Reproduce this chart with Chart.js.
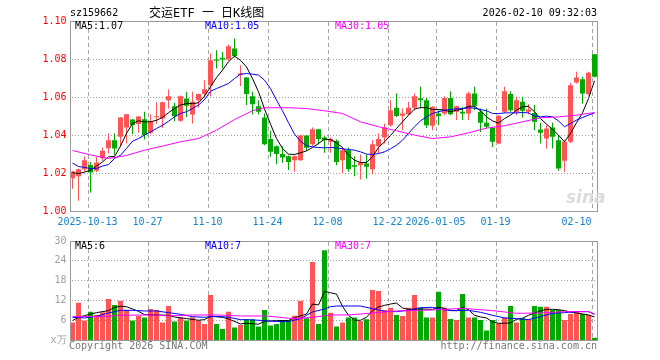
<!DOCTYPE html>
<html>
<head>
<meta charset="utf-8">
<script src="https://cdn.jsdelivr.net/npm/chart.js@4.4.1/dist/chart.umd.min.js"></script>
<style>
  body { margin: 0; background: #fff; }
  #box { position: relative; width: 660px; height: 360px; overflow: hidden;
         font-family: "DejaVu Sans Mono", "Liberation Mono", monospace; font-size: 10px; line-height: 10px; }
  #box canvas { position: absolute; left: 0; }
  .t { position: absolute; white-space: pre; }
</style>
</head>
<body>
<div id="box">
  <canvas id="kline" width="660" height="232" style="top:0"></canvas>
  <canvas id="vol" width="660" height="128" style="top:232px"></canvas>

  <div class="t" style="left:70px;top:8px">sz159662</div>
  <div class="t" style="left:149px;top:7px;font-size:12px;line-height:12px;font-family:'DejaVu Sans Mono','Noto Sans CJK SC'">交运ETF 一 日K线图</div>
  <div class="t" style="right:63px;top:8px">2026-02-10 09:32:03</div>

  <div class="t" style="left:75px;top:21px;color:#000">MA5:1.07</div>
  <div class="t" style="left:205px;top:21px;color:#0000ff">MA10:1.05</div>
  <div class="t" style="left:335px;top:21px;color:#ff00ff">MA30:1.05</div>

  <div class="t" style="left:566px;top:187px;color:#dcdcdc;font:italic bold 17px 'DejaVu Sans'">sina</div>

  <div class="t" style="left:75px;top:241px;color:#000">MA5:6</div>
  <div class="t" style="left:205px;top:241px;color:#0000ff">MA10:7</div>
  <div class="t" style="left:335px;top:241px;color:#ff00ff">MA30:7</div>

  <div class="t" style="left:69px;top:341px;color:#777">Copyright 2026 SINA.COM</div>
  <div class="t" style="right:63px;top:341px;color:#777">http://finance.sina.com.cn</div>
</div>

<script>
const dates = [
  "2025-09-30","2025-10-09","2025-10-10","2025-10-13","2025-10-14","2025-10-15","2025-10-16","2025-10-17",
  "2025-10-20","2025-10-21","2025-10-22","2025-10-23","2025-10-24","2025-10-27","2025-10-28","2025-10-29",
  "2025-10-30","2025-10-31","2025-11-03","2025-11-04","2025-11-05","2025-11-06","2025-11-07","2025-11-10",
  "2025-11-11","2025-11-12","2025-11-13","2025-11-14","2025-11-17","2025-11-18","2025-11-19","2025-11-20",
  "2025-11-21","2025-11-24","2025-11-25","2025-11-26","2025-11-27","2025-11-28","2025-12-01","2025-12-02",
  "2025-12-03","2025-12-04","2025-12-05","2025-12-08","2025-12-09","2025-12-10","2025-12-11","2025-12-12",
  "2025-12-15","2025-12-16","2025-12-17","2025-12-18","2025-12-19","2025-12-22","2025-12-23","2025-12-24",
  "2025-12-25","2025-12-26","2025-12-29","2025-12-30","2025-12-31","2026-01-05","2026-01-06","2026-01-07",
  "2026-01-08","2026-01-09","2026-01-12","2026-01-13","2026-01-14","2026-01-15","2026-01-16","2026-01-19",
  "2026-01-20","2026-01-21","2026-01-22","2026-01-23","2026-01-26","2026-01-27","2026-01-28","2026-01-29",
  "2026-01-30","2026-02-02","2026-02-03","2026-02-04","2026-02-05","2026-02-06","2026-02-09","2026-02-10"
];

// axis labels shown under the price panel (last one padded so it ends at its grid line)
const tickText = {
  "2025-10-13": "2025-10-13", "2025-10-27": "10-27", "2025-11-10": "11-10", "2025-11-24": "11-24",
  "2025-12-08": "12-08", "2025-12-22": "12-22", "2026-01-05": "2026-01-05", "2026-01-19": "01-19",
  "2026-02-10": "02-10     "
};

const open = [
  1.0175,1.0185,1.0222,1.0245,1.0215,1.028,1.0333,1.0375,1.0393,1.0442,1.0484,1.046,1.0486,1.0414,1.0496,1.049,
  1.0586,1.0554,1.0477,1.0595,1.0511,1.0586,1.0618,1.0665,1.080,1.0809,1.080,1.0858,1.0718,1.0705,1.0607,1.0554,
  1.0495,1.0381,1.0344,1.0302,1.0291,1.027,1.027,1.040,1.0354,1.0433,1.0389,1.0367,1.0372,1.027,1.0323,1.0244,
  1.0244,1.0253,1.0223,1.0344,1.0389,1.0454,1.0546,1.0504,1.0512,1.0546,1.0596,1.0586,1.0451,1.0516,1.0516,1.0598,
  1.0525,1.0525,1.0516,1.0621,1.0525,1.0467,1.044,1.0358,1.0525,1.0618,1.0525,1.0577,1.0525,1.0519,1.0432,1.0384,
  1.0442,1.0375,1.0267,1.0367,1.0679,1.0696,1.0618,1.0828
];
const high = [
  1.0215,1.0225,1.029,1.026,1.0288,1.0337,1.041,1.041,1.0497,1.0513,1.0486,1.0502,1.0525,1.0512,1.0575,1.0577,
  1.0642,1.0572,1.061,1.063,1.063,1.062,1.0691,1.0832,1.0849,1.084,1.0877,1.0911,1.077,1.0708,1.063,1.0586,
  1.0516,1.0425,1.0347,1.0344,1.0295,1.0295,1.0404,1.0402,1.0442,1.0435,1.0396,1.039,1.0379,1.0337,1.0337,1.0291,
  1.030,1.030,1.0375,1.0411,1.0463,1.0586,1.0621,1.0542,1.0577,1.0621,1.0656,1.0598,1.0554,1.0533,1.0607,1.0633,
  1.0556,1.0551,1.063,1.0656,1.0542,1.0542,1.0446,1.0507,1.0656,1.0633,1.0604,1.0604,1.0565,1.056,1.0467,1.0454,
  1.0467,1.0402,1.0375,1.0677,1.0735,1.0709,1.0735,1.0828
];
const low = [
  1.012,1.0057,1.021,1.010,1.0208,1.0267,1.0305,1.0297,1.0344,1.0358,1.0407,1.0414,1.0379,1.0407,1.046,1.044,
  1.0542,1.0475,1.0472,1.0498,1.0463,1.0547,1.0604,1.0607,1.0753,1.0753,1.0793,1.081,1.0661,1.056,1.0511,1.0511,
  1.0349,1.0288,1.0249,1.0256,1.0218,1.0209,1.0267,1.0319,1.0344,1.0353,1.0309,1.0309,1.0244,1.020,1.0209,1.0186,
  1.0168,1.0174,1.0196,1.0305,1.0358,1.0446,1.0498,1.0428,1.0507,1.0533,1.0542,1.044,1.0428,1.0454,1.0507,1.0507,
  1.0481,1.0481,1.0481,1.0533,1.0419,1.0437,1.034,1.0354,1.0519,1.0525,1.0507,1.0495,1.0512,1.0428,1.0358,1.0332,
  1.0332,1.0214,1.0209,1.0361,1.0674,1.0568,1.0612,1.0705
];
const close = [
  1.021,1.0222,1.027,1.0205,1.0258,1.032,1.0375,1.0332,1.0495,1.0512,1.0455,1.05,1.0402,1.0474,1.050,1.0575,
  1.0607,1.0501,1.0607,1.0556,1.0578,1.0618,1.0644,1.0796,1.0793,1.080,1.087,1.0818,1.0726,1.0618,1.0565,1.0525,
  1.0354,1.0314,1.0302,1.0284,1.0261,1.0291,1.040,1.0335,1.0433,1.0381,1.0375,1.0381,1.0261,1.0323,1.0223,1.0235,
  1.0258,1.0235,1.0354,1.0381,1.0442,1.0533,1.0502,1.0516,1.0546,1.0607,1.0586,1.0454,1.0551,1.0502,1.0598,1.0512,
  1.0554,1.0516,1.0621,1.0556,1.0467,1.0446,1.0367,1.0504,1.0633,1.0533,1.0586,1.053,1.0537,1.0472,1.0414,1.0437,
  1.0393,1.0226,1.0367,1.0665,1.0705,1.0621,1.073,1.0709
];

const ma5 = [
  1.0204,1.020,1.0207,1.0218,1.0239,1.0261,1.0288,1.0289,1.0344,1.0411,1.0463,1.0477,1.0472,1.0472,1.048,1.0495,
  1.052,1.0542,1.056,1.0568,1.0568,1.0572,1.0607,1.0656,1.0705,1.0744,1.0788,1.0818,1.0796,1.0761,1.070,1.063,
  1.054,1.046,1.0384,1.0332,1.0302,1.030,1.0309,1.0319,1.0337,1.0358,1.0381,1.0379,1.0361,1.0337,1.0296,1.027,
  1.0258,1.0258,1.0288,1.0337,1.0367,1.040,1.0437,1.0472,1.0507,1.0539,1.0547,1.0546,1.0537,1.0537,1.0533,1.0525,
  1.0533,1.0539,1.0554,1.0554,1.053,1.0498,1.0477,1.0465,1.0489,1.0507,1.0533,1.0551,1.0554,1.0525,1.0489,1.046,
  1.0432,1.0402,1.0367,1.0411,1.0467,1.0519,1.0595,1.0688
];
const ma10 = [
  1.0255,1.0237,1.0232,1.0226,1.0226,1.0239,1.0247,1.0279,1.0296,1.0332,1.037,1.0384,1.0402,1.0419,1.0437,1.0454,
  1.0475,1.0498,1.0516,1.0525,1.0542,1.056,1.0589,1.0633,1.0647,1.066,1.0674,1.070,1.0723,1.0726,1.0723,1.0718,
  1.0691,1.0647,1.0586,1.053,1.0467,1.0407,1.037,1.0347,1.034,1.0337,1.0335,1.0337,1.0335,1.033,1.0326,1.0323,
  1.0314,1.0302,1.030,1.0305,1.0314,1.033,1.0349,1.0375,1.0411,1.0446,1.0477,1.0498,1.0516,1.0525,1.0533,1.0537,
  1.054,1.0542,1.0546,1.0544,1.0537,1.053,1.0516,1.0515,1.0519,1.0519,1.0519,1.0521,1.0519,1.0502,1.0498,1.0502,
  1.0498,1.0477,1.0446,1.0463,1.0481,1.0495,1.0507,1.0519
];
// [day index, value]
const ma30 = [
  [0,1.0321],[3,1.0298],[6,1.0279],[9,1.0295],[12,1.0323],[15,1.0344],[18,1.0367],[21,1.0384],[24,1.0428],
  [27,1.0484],[30,1.053],[32,1.0546],[36,1.0546],[39,1.0542],[42,1.053],[45,1.0516],[48,1.0472],[51,1.0446],
  [54,1.0425],[57,1.0402],[60,1.0384],[63,1.0393],[66,1.0414],[69,1.0439],[72,1.0451],[75,1.0472],[78,1.0493],
  [81,1.0498],[84,1.0507],[87,1.0521]
];

const volume = [
  5.4,11.4,6.0,8.7,7.7,8.5,12.5,10.7,12.0,9.2,6.0,7.4,6.9,9.5,9.2,5.4,10.4,5.7,6.9,6.0,7.0,6.0,5.0,13.7,
  5.0,3.5,8.7,3.9,4.7,6.4,6.4,4.2,9.2,4.5,5.0,6.2,6.2,7.5,12.0,6.7,23.7,5.0,27.2,8.4,
  4.2,5.4,6.9,6.9,5.9,6.4,15.2,14.9,9.2,9.9,7.7,7.4,9.9,13.7,9.9,6.9,6.9,14.7,9.9,6.5,6.2,14.0,
  6.9,6.9,6.2,3.0,6.2,5.2,6.9,10.4,5.4,6.7,6.4,10.4,10.2,10.2,9.2,9.2,6.2,8.0,8.9,8.0,7.7,0.8
];
const volMa5 = [
  [0,6.0],[1,7.0],[2,7.5],[4,8.4],[6,9.0],[7,10.0],[8,10.3],[9,10.2],[10,9.5],[11,8.8],[12,7.8],[14,7.7],
  [16,7.6],[17,7.1],[19,6.6],[21,6.1],[22,6.3],[23,7.3],[25,7.0],[26,6.5],[28,5.0],[29,5.2],[31,4.9],[32,5.8],
  [34,6.0],[36,6.0],[37,6.9],[38,7.4],[39,8.0],[40,11.0],[41,10.7],[42,14.8],[43,14.4],[44,14.0],[45,10.3],
  [46,7.6],[47,6.1],[48,6.1],[49,7.0],[50,9.0],[51,10.1],[52,10.6],[53,11.0],[54,11.3],[55,9.8],[56,9.4],
  [58,9.5],[60,9.4],[61,10.0],[62,9.7],[63,9.0],[64,9.0],[65,10.0],[66,9.3],[67,7.6],[68,7.1],[69,6.8],
  [70,5.6],[71,5.2],[72,5.2],[73,5.3],[74,6.4],[75,6.7],[76,7.6],[77,8.3],[78,8.9],[79,9.4],[80,9.4],
  [81,9.3],[82,9.0],[83,8.6],[84,8.3],[85,8.0],[86,7.7],[87,7.1]
];
const volMa10 = [
  [0,7.0],[2,6.8],[4,7.3],[6,8.3],[8,9.1],[10,9.1],[12,8.9],[14,8.9],[16,8.4],[18,7.9],[20,7.2],[22,7.0],
  [24,7.3],[26,7.0],[28,6.3],[30,6.2],[32,6.0],[34,5.7],[36,5.7],[38,6.6],[40,8.6],[42,9.5],[43,10.2],
  [44,10.4],[46,10.4],[48,10.4],[50,9.6],[52,8.8],[54,8.7],[56,9.1],[58,9.9],[60,10.0],[62,9.2],[64,9.0],
  [66,9.1],[68,8.5],[70,7.6],[72,6.8],[74,6.6],[76,6.3],[78,7.2],[80,8.2],[82,8.4],[84,8.7],[86,8.7],[87,8.0]
];
const volMa30 = [
  [0,7.2],[5,7.2],[8,7.6],[13,7.7],[16,7.4],[20,7.7],[24,7.7],[28,7.4],[32,7.4],[34,7.1],[36,6.7],[38,6.7],
  [40,7.0],[43,7.7],[46,7.7],[50,8.3],[54,8.9],[60,9.2],[65,9.7],[70,9.0],[74,8.2],[78,8.3],[82,8.7],
  [86,8.7],[87,7.9]
];

const priceTicks = [1.00, 1.02, 1.04, 1.06, 1.08, 1.10];
const volTicks = [0, 6, 12, 18, 24, 30];

const RED = "#ff5555";
const GREEN = "#00a800";
const mono = '"DejaVu Sans Mono", "Liberation Mono", monospace';

const candleColors = close.map((c, i) => c >= open[i] ? RED : GREEN);
const toPoints = arr => arr.map(p => ({ x: dates[p[0]], y: p[1] }));

// grid (dashed date lines, dotted value lines) and frame, placed with the chart's own scales.
// Painted last, only on pixels still empty, so bars and lines stay in front.
const panel = {
  id: "panel",
  afterDraw(chart) {
    const a = chart.chartArea, c = chart.ctx;
    const xs = chart.scales.x, ys = chart.scales.y;
    const W = chart.canvas.width, H = chart.canvas.height;
    const top = Math.floor(a.top), bottom = Math.floor(a.bottom);
    const left = Math.round(a.left), right = Math.floor(a.right);
    const px = c.getImageData(0, 0, W, H).data;
    const empty = (x, y) => {
      const k = (y * W + x) * 4;
      return px[k + 3] < 40 || (px[k] > 235 && px[k + 1] > 235 && px[k + 2] > 235);
    };
    c.save();
    c.fillStyle = "#a4a4a4";
    dates.forEach((d, i) => {
      if (!tickText[d]) return;
      const x = Math.round(xs.getPixelForValue(i) - 2.5);
      for (let y = top + 1; y < bottom; y++) {
        if ((y - top - 1) % 7 < 4 && empty(x, y)) c.fillRect(x, y, 1, 1);
      }
    });
    c.fillStyle = "#9c9c9c";
    const ticks = chart.canvas.id === "vol" ? volTicks : priceTicks;
    ticks.slice(1, -1).forEach(v => {
      const y = Math.floor(ys.getPixelForValue(v));
      for (let x = left + 2; x < right; x += 3) if (empty(x, y)) c.fillRect(x, y, 1, 1);
    });
    c.fillStyle = "#9a9a9a";
    c.fillRect(left, top, right - left + 1, 1);
    c.fillRect(left, bottom, right - left + 1, 1);
    c.fillRect(left, top, 1, bottom - top + 1);
    c.fillRect(right, top, 1, bottom - top + 1);
    c.restore();
  }
};

function xScale(showLabels, height) {
  return {
    offset: true,
    grid: { display: false, drawTicks: false },
    border: { display: false },
    ticks: {
      display: showLabels,
      autoSkip: false,
      maxRotation: 0,
      padding: 5,
      labelOffset: -3,
      color: "#1484cc",
      font: { family: mono, size: 10 },
      callback: (v, i) => tickText[dates[i]] || ""
    },
    afterFit: s => { s.height = height; }
  };
}

function yScale(ticks, color, label) {
  return {
    min: ticks[0], max: ticks[ticks.length - 1],
    afterBuildTicks: s => { s.ticks = ticks.map(v => ({ value: v })); },
    grid: { display: false, drawTicks: false },
    border: { display: false },
    ticks: { padding: 3, color: color, font: { family: mono, size: 10 }, callback: label },
    afterFit: s => { s.width = 69.5; }
  };
}

function lineSet(data, color) {
  return { type: "line", data: data, borderColor: color, borderWidth: 1, pointRadius: 0,
           tension: 0, spanGaps: true, fill: false, order: 0 };
}

new Chart(document.getElementById("kline"), {
  type: "bar",
  data: {
    labels: dates,
    datasets: [
      { data: low.map((l, i) => [l, high[i]]), backgroundColor: candleColors, barThickness: 1,
        grouped: false, inflateAmount: 0, order: 3 },
      { data: open.map((o, i) => [o, close[i]]), backgroundColor: candleColors, barThickness: 5,
        grouped: false, inflateAmount: 0, minBarLength: 1, order: 2 },
      lineSet(toPoints(ma30), "#ff00ff"),
      lineSet(ma10, "#0000ff"),
      lineSet(ma5, "#000000")
    ]
  },
  options: {
    responsive: false,
    animation: false,
    layout: { padding: { left: 0, right: 62.5, top: 21.5, bottom: 0 } },
    plugins: { legend: { display: false }, tooltip: { enabled: false } },
    scales: {
      x: xScale(true, 20.5),
      y: yScale(priceTicks, "#ff0000", v => v.toFixed(2))
    }
  },
  plugins: [panel]
});

new Chart(document.getElementById("vol"), {
  type: "bar",
  data: {
    labels: dates,
    datasets: [
      { data: volume, backgroundColor: candleColors, barThickness: 5, inflateAmount: 0, order: 2 },
      lineSet(toPoints(volMa30), "#ff00ff"),
      lineSet(toPoints(volMa10), "#0000ff"),
      lineSet(toPoints(volMa5), "#000000")
    ]
  },
  options: {
    responsive: false,
    animation: false,
    layout: { padding: { left: 0, right: 62.5, top: 8.5, bottom: 0 } },
    plugins: { legend: { display: false }, tooltip: { enabled: false } },
    scales: {
      x: xScale(false, 19.5),
      y: yScale(volTicks, "#a0a0a0", v => v === 0 ? "x万" : String(v))
    }
  },
  plugins: [panel]
});
</script>
</body>
</html>
